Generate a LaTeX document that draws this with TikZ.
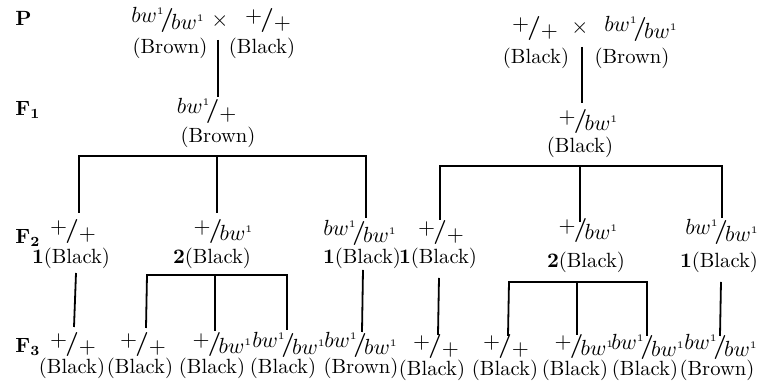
\documentclass[tikz,border=0pt]{standalone}
\newcommand{\gtype}[2]{\raisebox{0.3ex}{#1}\kern-0.2em\raisebox{-0.2ex}{\large\bfseries/}\kern-0.12em\raisebox{-0.45ex}{#2}}
\newcommand{\bwone}{$bw^{\scriptscriptstyle 1}$}
\newcommand{\wt}{\kern0.12em$+$\kern0.12em}
\begin{document}
\begin{tikzpicture}[x=0.5pt,y=-0.5pt,
  txt/.style={inner sep=0pt, font=\fontsize{10.3}{12}\selectfont},
  gen/.style={inner sep=0pt, font=\fontsize{11}{13}\selectfont},
  lab/.style={inner sep=0pt, anchor=west, font=\bfseries\fontsize{10.3}{12}\selectfont},
  ln/.style={line width=0.9pt}]
\useasboundingbox (0,0) rectangle (757,389);

% generation labels
\node[lab] (lP)  at (15,18)  {P};
\node[lab] (lF1) at (15,110) {F$_{\mathbf{1}}$};
\node[lab] (lF2) at (15,238) {F$_{\mathbf{2}}$};
\node[lab] (lF3) at (15,347) {F$_{\mathbf{3}}$};

% ---------------- left cross ----------------
\node[gen] (pLa) at (168,20) {\gtype{\bwone}{\bwone}};
\node[gen] (pLx) at (220,21) {$\times$};
\node[gen] (pLb) at (268,21) {\gtype{\wt}{\wt}};
\node[txt] (pLap) at (170,48) {(Brown)};
\node[txt] (pLbp) at (262,48) {(Black)};

\node[gen] (f1L)  at (208,111) {\gtype{\bwone}{\wt}};
\node[txt] (f1Lp) at (218,137) {(Brown)};

\coordinate (cLt) at (218,40);
\coordinate (cLb) at (218,97);
\draw[ln] (cLt) -- (cLb);

% F2 left
\node[gen] (f2La)  at (73,232)  {\gtype{\wt}{\wt}};
\node[txt] (f2Lap) at (71,258)  {\textbf{1}(Black)};
\node[gen] (f2Lb)  at (222,232) {\gtype{\wt}{\bwone}};
\node[txt] (f2Lbp) at (212,258) {\textbf{2}(Black)};
\node[gen] (f2Lc)  at (360,233) {\gtype{\bwone}{\bwone}};
\node[txt] (f2Lcp) at (362,258) {\textbf{1}(Black)};

\coordinate (bL1) at (79,156);
\coordinate (bL2) at (217,156);
\coordinate (bL3) at (366,156);
\coordinate (dL1) at (79,213);
\coordinate (dL2) at (217,213);
\coordinate (dL3) at (366,218);
\draw[ln] (dL1) -- (bL1) -- (bL3) -- (dL3);
\draw[ln] (bL2) -- (dL2);

% F3 left
\node[gen] (f3La)  at (73,345)  {\gtype{\wt}{\wt}};
\node[txt] (f3Lap) at (72,368)  {(Black)};
\node[gen] (f3Lb)  at (143,345) {\gtype{\wt}{\wt}};
\node[txt] (f3Lbp) at (140,368) {(Black)};
\node[gen] (f3Lc)  at (221,345) {\gtype{\wt}{\bwone}};
\node[txt] (f3Lcp) at (212,368) {(Black)};
\node[gen] (f3Ld)  at (289,345) {\gtype{\bwone}{\bwone}};
\node[txt] (f3Ldp) at (283,368) {(Black)};
\node[gen] (f3Le)  at (361,345) {\gtype{\bwone}{\bwone}};
\node[txt] (f3Lep) at (361,368) {(Brown)};

\coordinate (eL1t) at (76,273);
\coordinate (eL1b) at (74,327);
\draw[ln] (eL1t) -- (eL1b);
\coordinate (gL1) at (147,275);
\coordinate (gL2) at (215,275);
\coordinate (gL3) at (287,275);
\coordinate (hL1) at (146,328);
\coordinate (hL2) at (215,331);
\coordinate (hL3) at (287,330);
\draw[ln] (hL1) -- (gL1) -- (gL3) -- (hL3);
\draw[ln] (gL2) -- (hL2);
\coordinate (eL5t) at (363,270);
\coordinate (eL5b) at (362,332);
\draw[ln] (eL5t) -- (eL5b);

% ---------------- right cross ----------------
\node[gen] (pRa) at (535,29) {\gtype{\wt}{\wt}};
\node[gen] (pRx) at (580,28) {$\times$};
\node[gen] (pRb) at (641,29) {\gtype{\bwone}{\bwone}};
\node[txt] (pRap) at (536,58) {(Black)};
\node[txt] (pRbp) at (632,58) {(Brown)};

\node[gen] (f1R)  at (587,122) {\gtype{\wt}{\bwone}};
\node[txt] (f1Rp) at (580,147) {(Black)};

\coordinate (cRt) at (582,47);
\coordinate (cRb) at (582,103);
\draw[ln] (cRt) -- (cRb);

% F2 right
\node[gen] (f2Ra)  at (441,233) {\gtype{\wt}{\wt}};
\node[txt] (f2Rap) at (438,258) {\textbf{1}(Black)};
\node[gen] (f2Rb)  at (587,231) {\gtype{\wt}{\bwone}};
\node[txt] (f2Rbp) at (586,262) {\textbf{2}(Black)};
\node[gen] (f2Rc)  at (722,232) {\gtype{\bwone}{\bwone}};
\node[txt] (f2Rcp) at (719,262) {\textbf{1}(Black)};

\coordinate (bR1) at (440,166);
\coordinate (bR2) at (580,166);
\coordinate (bR3) at (722,166);
\coordinate (dR1) at (440,220);
\coordinate (dR2) at (580,222);
\coordinate (dR3) at (722,218);
\draw[ln] (dR1) -- (bR1) -- (bR3) -- (dR3);
\draw[ln] (bR2) -- (dR2);

% F3 right
\node[gen] (f3Ra)  at (436,347) {\gtype{\wt}{\wt}};
\node[txt] (f3Rap) at (432,370) {(Black)};
\node[gen] (f3Rb)  at (506,347) {\gtype{\wt}{\wt}};
\node[txt] (f3Rbp) at (505,370) {(Black)};
\node[gen] (f3Rc)  at (583,347) {\gtype{\wt}{\bwone}};
\node[txt] (f3Rcp) at (575,370) {(Black)};
\node[gen] (f3Rd)  at (648,347) {\gtype{\bwone}{\bwone}};
\node[txt] (f3Rdp) at (645,370) {(Black)};
\node[gen] (f3Re)  at (721,347) {\gtype{\bwone}{\bwone}};
\node[txt] (f3Rep) at (717,370) {(Brown)};

\coordinate (eR1t) at (439,278);
\coordinate (eR1b) at (438,335);
\draw[ln] (eR1t) -- (eR1b);
\coordinate (gR1) at (509,282);
\coordinate (gR2) at (577,282);
\coordinate (gR3) at (647,282);
\coordinate (hR1) at (508,336);
\coordinate (hR2) at (577,335);
\coordinate (hR3) at (647,336);
\draw[ln] (hR1) -- (gR1) -- (gR3) -- (hR3);
\draw[ln] (gR2) -- (hR2);
\coordinate (eR5t) at (721,282);
\coordinate (eR5b) at (720,336);
\draw[ln] (eR5t) -- (eR5b);
\end{tikzpicture}
\end{document}
